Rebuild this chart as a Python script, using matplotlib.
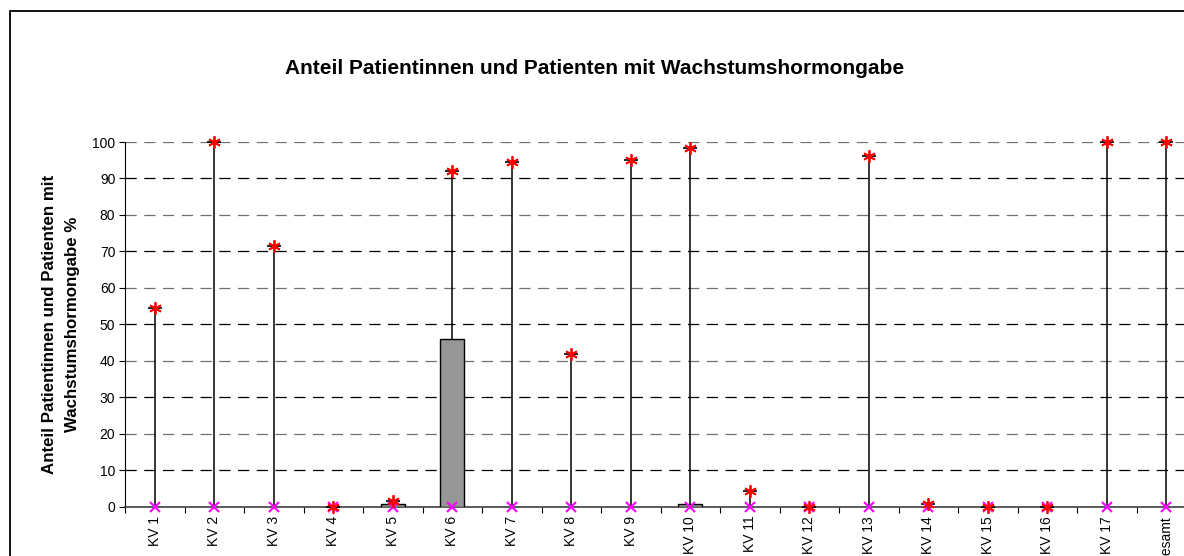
import numpy as np
import matplotlib
matplotlib.use("Agg")
import matplotlib.pyplot as plt
from matplotlib.patches import Rectangle

# Werte (Prozent)
categories = ["KV 1", "KV 2", "KV 3", "KV 4", "KV 5", "KV 6", "KV 7", "KV 8", "KV 9",
              "KV 10", "KV 11", "KV 12", "KV 13", "KV 14", "KV 15", "KV 16", "KV 17", "Gesamt"]
max_vals = [54.5, 100, 71.5, 0, 1.5, 92.1, 94.4, 41.8, 95.0,
            98.3, 4.3, 0, 96.2, 0.7, 0, 0, 100, 100]
min_vals = [0] * 18
box_low = [0] * 18
box_high = [0, 0, 0, 0, 0.7, 46.1, 0, 0, 0, 0.7, 0, 0, 0, 0, 0, 0, 0, 0]

plt.rcParams['font.family'] = ['Liberation Sans', 'DejaVu Sans']

fig = plt.figure(figsize=(11.84, 5.56), dpi=100)
W, H = 1184, 556
# Achse ragt rechts ueber den Bildrand hinaus (wie im Original)
ax = fig.add_axes([125 / W, 1 - 506.7 / H, 1071 / W, (506.7 - 142) / H])

x = np.arange(len(categories))

# Gitterlinien
for v in range(10, 101, 10):
    ax.axhline(v, color="black" if v % 20 else "#707070", lw=0.9,
               dashes=(9, 6), zorder=0)

# Whisker (min bis max)
ax.vlines(x, min_vals, max_vals, color="black", lw=1.1, zorder=2)

# Boxen
for xi, lo, hi in zip(x, box_low, box_high):
    if hi > lo:
        ax.add_patch(Rectangle((xi - 0.2, lo), 0.4, hi - lo, facecolor="#969696",
                               edgecolor="black", lw=1.0, zorder=3))

ax.plot(x, max_vals, ls="none", marker="_", color="black", ms=10, mew=1.2,
        zorder=4, clip_on=False)
ax.plot(x, min_vals, ls="none", marker="x", color="#FF00FF", ms=7.5, mew=1.5,
        zorder=5, clip_on=False)
ax.plot(x, max_vals, ls="none", marker=(6, 2, 0), color="red", ms=9, mew=1.3,
        zorder=6, clip_on=False)

ax.set_xlim(-0.5, len(categories) - 0.5)
ax.set_ylim(0, 100)
ax.set_yticks(range(0, 101, 10))
ax.tick_params(axis="y", direction="out", length=4, labelsize=10, pad=3)

ax.set_xticks(np.arange(-0.5, len(categories), 1))
ax.set_xticklabels([])
ax.tick_params(axis="x", direction="out", length=4, color="black")
for xi, lab in zip(x, categories):
    ax.text(xi, -2.5, lab, rotation=90, ha="center", va="top", fontsize=10,
            clip_on=False)

ax.spines["top"].set_visible(False)
ax.spines["right"].set_visible(False)
ax.spines["left"].set_color("black")
ax.spines["bottom"].set_color("#404040")
ax.spines["bottom"].set_linewidth(1.2)

ax.set_ylabel("Anteil Patientinnen und Patienten mit\nWachstumshormongabe %",
              fontsize=12.2, fontweight="bold", labelpad=9, linespacing=1.6)

fig.text(595 / W, 1 - 68 / H, "Anteil Patientinnen und Patienten mit Wachstumshormongabe",
         ha="center", va="center", fontsize=15, fontweight="bold")

# Rahmen um das Diagramm (rechts und unten abgeschnitten)
fig.add_artist(Rectangle((10 / W, -0.1), 1.2, 1 - 11 / H + 0.1, transform=fig.transFigure,
                         fill=False, edgecolor="black", lw=1.3))

fig.savefig("out.png", dpi=100)
